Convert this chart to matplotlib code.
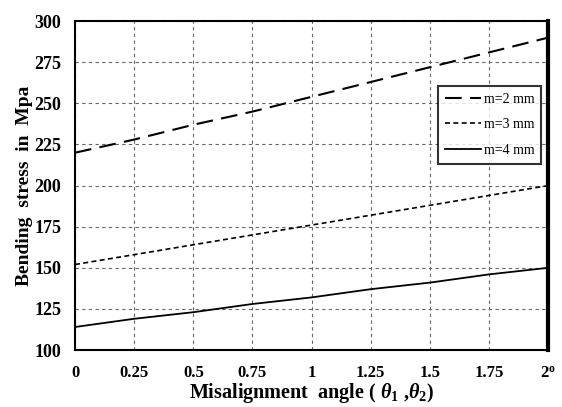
import matplotlib
matplotlib.use("Agg")
import matplotlib.pyplot as plt
import numpy as np

angle = [0, 0.25, 0.5, 0.75, 1.0, 1.25, 1.5, 1.75, 2.0]
m2 = [220, 228, 237, 245, 254, 263, 272, 281, 290]
m3 = [152, 158, 164, 170, 176, 182, 188, 194, 200]
m4 = [114, 119, 123, 128, 132, 137, 141, 146, 150]
xticks = [0, 0.25, 0.5, 0.75, 1, 1.25, 1.5, 1.75, 2]
xticklabels = ["0", "0.25", "0.5", "0.75", "1", "1.25", "1.5", "1.75", "2$^{\\mathbf{o}}$"]
yticks = [100, 125, 150, 175, 200, 225, 250, 275, 300]

plt.rcParams['font.family'] = ['Liberation Serif', 'DejaVu Serif']
plt.rcParams['mathtext.fontset'] = 'custom'
plt.rcParams['mathtext.rm'] = 'Liberation Serif:bold'
plt.rcParams['mathtext.it'] = 'Liberation Serif:bold:italic'
plt.rcParams['mathtext.bf'] = 'Liberation Serif:bold'

fig = plt.figure(figsize=(5.62, 4.07), dpi=100)
ax = fig.add_axes([0.1335, 0.14, 0.842, 0.808])

ax.plot(angle, m2, color='black', lw=1.5, linestyle=(0, (8, 4)), label='m=2 mm')
ax.plot(angle, m3, color='black', lw=1.2, linestyle=(0, (3, 2)), label='m=3 mm')
ax.plot(angle, m4, color='black', lw=1.3, linestyle='-', label='m=4 mm')

ax.set_xlim(0, 2)
ax.set_ylim(100, 300)
ax.set_xticks(xticks)
ax.set_xticklabels(xticklabels)
ax.set_yticks(yticks)
ax.tick_params(axis='y', length=0, labelsize=13, pad=10)
ax.tick_params(axis='x', length=0, labelsize=12, pad=11)
for lab in ax.get_xticklabels() + ax.get_yticklabels():
    lab.set_fontweight('bold')
ax.grid(True, color='#666666', linestyle=(0, (3, 3)), lw=0.8)

for s in ['left', 'bottom', 'top']:
    ax.spines[s].set_linewidth(1.5)
ax.spines['right'].set_linewidth(3)

ax.set_xlabel(r'Misalignment  angle ( $\theta_{1}$ ,$\theta_{2}$)', fontsize=14.5, fontweight='bold', labelpad=0)
ax.set_ylabel('Bending  stress  in  Mpa', fontsize=14, fontweight='bold', labelpad=1)

leg = ax.legend(loc='upper right', bbox_to_anchor=(1.0, 0.825), frameon=True, fancybox=False,
                edgecolor='black', fontsize=10, handlelength=2.6, labelspacing=0.9,
                borderpad=0.5, handletextpad=0.2)
leg.get_frame().set_linewidth(1.5)

fig.savefig('out.png', dpi=100)
